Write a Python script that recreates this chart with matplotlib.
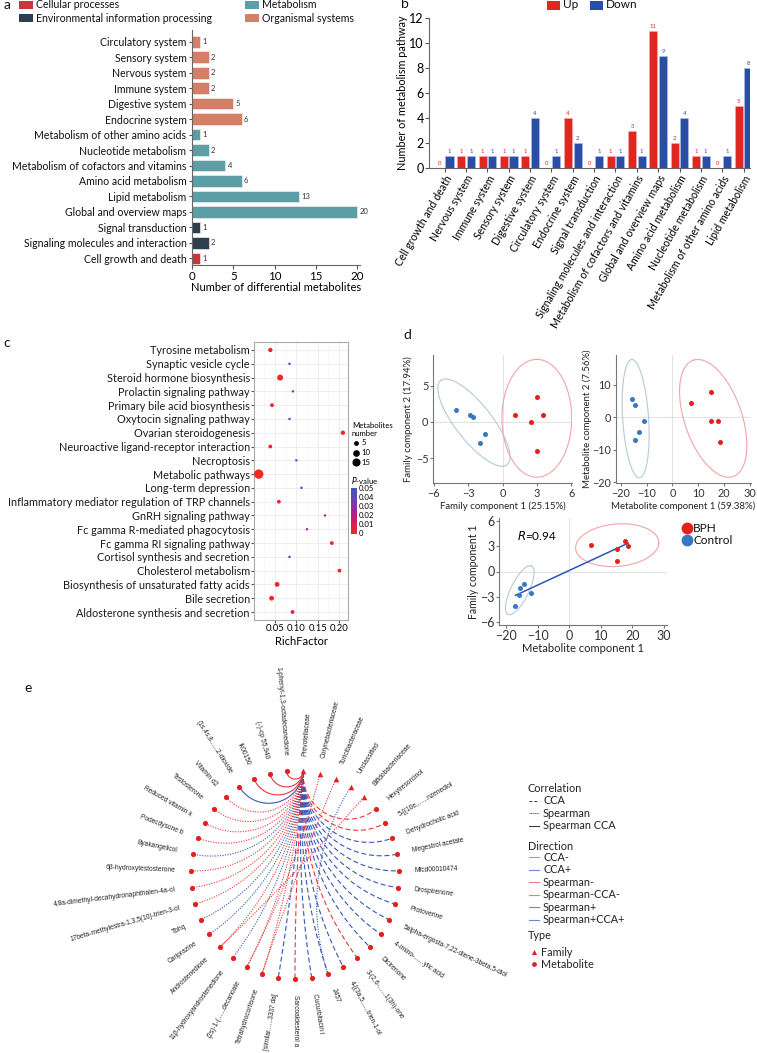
import numpy as np
import matplotlib
matplotlib.use('Agg')
import matplotlib.pyplot as plt
from matplotlib.patches import Rectangle
from matplotlib.lines import Line2D
from matplotlib.colors import LinearSegmentedColormap, Normalize
import matplotlib.cm as cm

plt.rcParams['font.family'] = ['Lato', 'DejaVu Sans']

# ---------------- data ----------------
# panel a
a_terms = ['Circulatory system', 'Sensory system', 'Nervous system', 'Immune system',
           'Digestive system', 'Endocrine system', 'Metabolism of other amino acids',
           'Nucleotide metabolism', 'Metabolism of cofactors and vitamins',
           'Amino acid metabolism', 'Lipid metabolism', 'Global and overview maps',
           'Signal transduction', 'Signaling molecules and interaction', 'Cell growth and death']
a_counts = [1, 2, 2, 2, 5, 6, 1, 2, 4, 6, 13, 20, 1, 2, 1]
a_class = ['Organismal systems'] * 6 + ['Metabolism'] * 6 + \
          ['Environmental information processing'] * 2 + ['Cellular processes']
a_colors = {'Cellular processes': '#c8383a',
            'Environmental information processing': '#2c3e50',
            'Metabolism': '#5b9ea6',
            'Organismal systems': '#d47f66'}

# panel b
b_terms = ['Cell growth and death', 'Nervous system', 'Immune system', 'Sensory system',
           'Digestive system', 'Circulatory system', 'Endocrine system', 'Signal transduction',
           'Signaling molecules and interaction', 'Metabolism of cofactors and vitamins',
           'Global and overview maps', 'Amino acid metabolism', 'Nucleotide metabolism',
           'Metabolism of other amino acids', 'Lipid metabolism']
b_up = [0, 1, 1, 1, 1, 0, 4, 0, 1, 3, 11, 2, 1, 0, 5]
b_down = [1, 1, 1, 1, 4, 1, 2, 1, 1, 1, 9, 4, 1, 1, 8]

# panel c (top to bottom)
c_terms = ['Tyrosine metabolism', 'Synaptic vesicle cycle', 'Steroid hormone biosynthesis',
           'Prolactin signaling pathway', 'Primary bile acid biosynthesis',
           'Oxytocin signaling pathway', 'Ovarian steroidogenesis',
           'Neuroactive ligand-receptor interaction', 'Necroptosis', 'Metabolic pathways',
           'Long-term depression', 'Inflammatory mediator regulation of TRP channels',
           'GnRH signaling pathway', 'Fc gamma R-mediated phagocytosis',
           'Fc gamma RI signaling pathway', 'Cortisol synthesis and secretion',
           'Cholesterol metabolism', 'Biosynthesis of unsaturated fatty acids',
           'Bile secretion', 'Aldosterone synthesis and secretion']
c_rich = [0.039, 0.084, 0.062, 0.092, 0.043, 0.084, 0.209, 0.039, 0.100, 0.012,
          0.112, 0.059, 0.167, 0.125, 0.183, 0.084, 0.201, 0.055, 0.042, 0.091]
c_count = [4, 1, 8, 1, 3, 1, 4, 3, 1, 20, 1, 3, 1, 1, 3, 1, 3, 5, 5, 3]
c_pval = [0.002, 0.040, 0.001, 0.037, 0.003, 0.040, 0.002, 0.003, 0.036, 0.0001,
          0.034, 0.003, 0.020, 0.026, 0.002, 0.040, 0.003, 0.001, 0.001, 0.006]

# panel d
d1_ctrl_x = [-4.1, -2.8, -2.6, -1.5, -2.0]
d1_ctrl_y = [1.7, 1.0, 0.7, -1.6, -2.9]
d1_bph_x = [1.1, 3.0, 3.5, 2.5, 3.0]
d1_bph_y = [1.0, 3.4, 0.95, 0.05, -4.0]
d2_ctrl_x = [-15.7, -14.5, -11.0, -13.0, -14.4]
d2_ctrl_y = [5.6, 3.8, -1.0, -4.6, -7.1]
d2_bph_x = [7.1, 15.0, 15.0, 17.5, 18.5]
d2_bph_y = [4.4, 7.8, -1.0, -1.2, -7.6]
d3_ctrl_x = [-15.6, -14.4, -15.9, -12.2, -17.1]
d3_ctrl_y = [-2.0, -1.45, -2.74, -2.5, -4.07]
d3_bph_x = [6.8, 17.7, 15.0, 18.7, 15.0]
d3_bph_y = [3.14, 3.6, 2.6, 3.06, 1.26]
r_value = 0.94
# ellipses: centre x, centre y, first half-axis (x, y), second half-axis (x, y)
d1_ell_ctrl = [-2.5, -0.1, -2.9, 5.8, 1.25, 1.55]
d1_ell_bph = [3.0, 0.5, 0.0, 8.1, 3.05, 0.0]
d2_ell_ctrl = [-14.2, -0.4, -1.5, 18.2, 5.0, 0.3]
d2_ell_bph = [15.8, -0.3, -7.7, 17.9, 10.5, 2.86]
d3_ell_ctrl = [-15.7, -2.2, 3.75, 2.85, 2.57, -0.46]
d3_ell_bph = [15.2, 3.1, 13.2, 0.3, 0.0, 2.5]

# panel e (clockwise from the top)
e_nodes = ['Prevotellaceae', 'Corynebacteriaceae', 'Turicibacteraceae', 'Unclassified',
           'Bifidobacteriaceae', 'Hexylresorcinol', '5-[(10e,......nzenediol',
           'Dehydrocholic acid', 'Megestrol acetate', 'Mfcd00010474', 'Drospirenone',
           'Protoverine', '5alpha-ergosta-7,22-diene-3beta,5-diol', '4-imino-......ylic acid',
           'Dicirenone', '3-(2,6-......1(3h)-one', '4-[(3a,5......trien-1-ol', '2457',
           'Cucurbitacin i', 'Sarcoaldesterol a', '[similar......3337 da]',
           'Tetrahydrocortisone', '(2s)-1-(......decanoate', '11β-hydroxyandrostenedione',
           'Androstenedione', 'Cariprazine', 'Tbhq', '17beta-methylestra-1,3,5(10)-trien-3-ol',
           '4,8a-dimethyl-decahydronaphthalen-4a-ol', '6β-hydroxytestosterone',
           'Byakangelicol', 'Podecdysone b', 'Reduced vitamin k', 'Testosterone',
           'Vitamin d2', '(1s,4s,8......2-dioxide', 'Ik00150', '(-)-cp 55,940',
           '1-phenyl-1,3-octadecanedione']
e_type = ['Family'] * 5 + ['Metabolite'] * 34
e_src = ['Prevotellaceae'] * 34 + ['Corynebacteriaceae', 'Turicibacteraceae',
                                    'Unclassified', 'Bifidobacteriaceae']
e_dst = e_nodes[5:] + ['(2s)-1-(......decanoate', 'Tetrahydrocortisone', '2457',
                       'Androstenedione']
e_kind = ['CCA-', 'CCA-', 'CCA+', 'CCA+', 'CCA+', 'CCA+', 'CCA+', 'CCA+', 'CCA+', 'CCA+',
          'CCA-', 'CCA+', 'CCA+', 'CCA+', 'CCA-', 'CCA+', 'Spearman-', 'Spearman-',
          'Spearman+', 'Spearman-', 'Spearman+', 'Spearman+', 'Spearman-', 'Spearman-',
          'Spearman-', 'Spearman+', 'Spearman-', 'Spearman-', 'Spearman-', 'Spearman-',
          'Spearman+CCA+', 'Spearman-CCA-', 'Spearman-CCA-', 'Spearman-CCA-',
          'Spearman-', 'Spearman-', 'Spearman+', 'Spearman-']
e_dir_labels = ['CCA-', 'CCA+', 'Spearman-', 'Spearman-CCA-', 'Spearman+', 'Spearman+CCA+']

# ---------------- figure ----------------
W, H = 757, 1053
fig = plt.figure(figsize=(W / 100, H / 100), dpi=100)


def box(x0, y0, x1, y1):
    return [x0 / W, 1 - y1 / H, (x1 - x0) / W, (y1 - y0) / H]


def fx(x):
    return x / W


def fy(y):
    return 1 - y / H


def panel_label(x, y, s):
    fig.text(fx(x), fy(y), s, fontsize=10, ha='left', va='center', color='#111')


RED = '#e3211c'
BLUE = '#2f4fa8'

# ---- a ----
ax = fig.add_axes(box(192, 30, 359.5, 265))
ypos = np.arange(len(a_terms))[::-1]
ax.barh(ypos, a_counts, height=0.75, color=[a_colors[c] for c in a_class],
        edgecolor='#eeeeee', linewidth=0.5)
for y, v in zip(ypos, a_counts):
    ax.text(v + 0.3, y, str(v), va='center', ha='left', fontsize=5.5, color='#333')
ax.set_yticks(ypos)
ax.set_yticklabels(a_terms, fontsize=7.6, color='#111')
ax.set_xlim(0, 20.3)
ax.set_ylim(-0.43, 14.76)
ax.set_xticks([0, 5, 10, 15, 20])
ax.tick_params(axis='x', labelsize=8.3, length=3, pad=1, color='#555')
ax.tick_params(axis='y', length=2, pad=2, color='#555')
for s in ['top', 'right']:
    ax.spines[s].set_visible(False)
for s in ['left', 'bottom']:
    ax.spines[s].set_color('#666')
    ax.spines[s].set_linewidth(0.8)
ax.set_xlabel('Number of differential metabolites', fontsize=8, labelpad=0)

leg_a = [('Cellular processes', 19, 5), ('Environmental information processing', 19, 18),
         ('Metabolism', 245, 5), ('Organismal systems', 245, 18)]
for name, lx, ly in leg_a:
    fig.add_artist(Rectangle((fx(lx), fy(ly + 4)), 14 / W, 8 / H, transform=fig.transFigure,
                             color=a_colors[name], ec='none'))
    fig.text(fx(lx + 17), fy(ly), name, fontsize=7.6, va='center', ha='left', color='#111')
panel_label(4, 5, 'a')

# ---- b ----
axb = fig.add_axes(box(429.3, 18, 750, 168))
xb = np.arange(len(b_terms))
axb.bar(xb - 0.225, b_up, 0.38, color='#e0261f', edgecolor='#f3b0b0', linewidth=0.4)
axb.bar(xb + 0.225, b_down, 0.38, color='#2a4ea6', edgecolor='#b0c0e8', linewidth=0.4)
for x, u, d in zip(xb, b_up, b_down):
    axb.text(x - 0.225, u + 0.15, str(u), ha='center', va='bottom', fontsize=4.3, color='#e0261f')
    axb.text(x + 0.225, d + 0.15, str(d), ha='center', va='bottom', fontsize=4.3, color='#2a4ea6')
axb.set_xlim(-0.72, 14.3)
axb.set_ylim(0, 12)
axb.set_yticks(range(0, 13, 2))
axb.set_xticks(xb)
axb.set_xticklabels(b_terms, rotation=60, ha='right', rotation_mode='anchor', fontsize=7.6)
axb.tick_params(axis='y', labelsize=9, length=3, pad=1, color='#555')
axb.tick_params(axis='x', length=3, pad=1, color='#555')
for s in ['top', 'right']:
    axb.spines[s].set_visible(False)
for s in ['left', 'bottom']:
    axb.spines[s].set_color('#666')
    axb.spines[s].set_linewidth(0.8)
axb.set_ylabel('Number of metabolism pathway', fontsize=7.8, labelpad=1)
for name, col, lx in [('Up', '#e0261f', 547), ('Down', '#2a4ea6', 590)]:
    fig.add_artist(Rectangle((fx(lx), fy(9.5)), 13 / W, 9 / H, transform=fig.transFigure,
                             color=col, ec='none'))
    fig.text(fx(lx + 16), fy(5), name, fontsize=8.5, va='center', ha='left', color='#111')
panel_label(401, 4, 'b')

# ---- c ----
axc = fig.add_axes(box(254, 342, 348, 620))
yc = np.arange(len(c_terms))[::-1]
pv_cmap = LinearSegmentedColormap.from_list('pv', ['#ee2a24', '#d8175e', '#a0269a', '#6a44b2', '#3a5cb8'])
axc.scatter(c_rich, yc, s=[2.2 * n + 1 for n in c_count], c=c_pval, cmap=pv_cmap,
            vmin=0, vmax=0.05, zorder=3, linewidths=0)
axc.set_xlim(0.0008, 0.221)
axc.set_ylim(-0.58, len(c_terms) - 1 + 0.58)
axc.set_xticks([0.05, 0.10, 0.15, 0.20])
axc.set_xticklabels(['0.05', '0.10', '0.15', '0.20'])
axc.set_xticks([0.025, 0.075, 0.125, 0.175], minor=True)
axc.set_yticks(yc)
axc.set_yticklabels(c_terms, fontsize=7.8, color='#1a1a1a')
axc.grid(True, which='major', color='#ebebeb', lw=0.6, zorder=0)
axc.grid(True, which='minor', axis='x', color='#f2f2f2', lw=0.4, zorder=0)
axc.set_axisbelow(True)
axc.tick_params(axis='both', length=2, pad=1, color='#555')
axc.tick_params(axis='x', which='minor', length=0)
axc.tick_params(axis='x', labelsize=6.8)
for s in axc.spines.values():
    s.set_color('#aaaaaa')
    s.set_linewidth(0.8)
axc.set_xlabel('RichFactor', fontsize=8, labelpad=2)

fig.text(fx(352), fy(425), 'Metabolites', fontsize=5.6, va='center', ha='left')
fig.text(fx(352), fy(433), 'number', fontsize=5.6, va='center', ha='left')
axs = fig.add_axes(box(350, 437, 372, 468))
axs.set_xlim(0, 22)
axs.set_ylim(468, 437)
axs.axis('off')
for n, yy in zip([5, 10, 15], [442.7, 452.7, 462.3]):
    axs.scatter([6], [yy], s=2.2 * n + 1, color='black', linewidths=0)
    axs.text(11.7, yy, str(n), fontsize=5.6, va='center', ha='left')
fig.text(fx(351), fy(481), '$P$-value', fontsize=5.6, va='center', ha='left')
cax = fig.add_axes(box(351, 487.5, 357, 533.5))
cb = fig.colorbar(cm.ScalarMappable(norm=Normalize(0, 0.05), cmap=pv_cmap), cax=cax)
cb.set_ticks([0, 0.01, 0.02, 0.03, 0.04, 0.05])
cb.set_ticklabels(['0', '0.01', '0.02', '0.03', '0.04', '0.05'])
cb.outline.set_visible(False)
cax.tick_params(labelsize=5.6, length=0, pad=1.5)
panel_label(3, 343, 'c')


# ---- d ----
def ellipse(axx, p, color):
    t = np.linspace(0, 2 * np.pi, 200)
    axx.plot(p[0] + p[2] * np.cos(t) + p[4] * np.sin(t),
             p[1] + p[3] * np.cos(t) + p[5] * np.sin(t), color=color, lw=0.8, zorder=2)


def style_d(axx, fs):
    for s in ['top', 'right']:
        axx.spines[s].set_visible(False)
    for s in ['left', 'bottom']:
        axx.spines[s].set_color('#777')
        axx.spines[s].set_linewidth(0.8)
    axx.axhline(0, color='#e3e3e3', lw=0.8, zorder=0)
    axx.axvline(0, color='#e3e3e3', lw=0.8, zorder=0)
    axx.tick_params(labelsize=fs, length=2.5, pad=1, color='#777', labelcolor='#333')


CTRL = '#3877c2'
ELL_C = '#b3cadb'
ELL_B = '#f2a5a5'

ax1 = fig.add_axes(box(433.3, 355, 571.7, 483))
ellipse(ax1, d1_ell_ctrl, ELL_C)
ellipse(ax1, d1_ell_bph, ELL_B)
ax1.scatter(d1_ctrl_x, d1_ctrl_y, s=13, color=CTRL, zorder=3, linewidths=0)
ax1.scatter(d1_bph_x, d1_bph_y, s=13, color=RED, zorder=3, linewidths=0)
ax1.set_xlim(-6.05, 6.05)
ax1.set_ylim(-8.4, 9.2)
ax1.set_xticks([-6, -3, 0, 3, 6])
ax1.set_yticks([-5, 0, 5])
style_d(ax1, 7.8)
ax1.set_xlabel('Family component 1 (25.15%)', fontsize=6.9, labelpad=2, color='#222')
ax1.set_ylabel('Family component 2 (17.94%)', fontsize=6.9, labelpad=2, color='#222')

ax2 = fig.add_axes(box(616, 355, 750.7, 483))
ellipse(ax2, d2_ell_ctrl, ELL_C)
ellipse(ax2, d2_ell_bph, ELL_B)
ax2.scatter(d2_ctrl_x, d2_ctrl_y, s=13, color=CTRL, zorder=3, linewidths=0)
ax2.scatter(d2_bph_x, d2_bph_y, s=13, color=RED, zorder=3, linewidths=0)
ax2.set_xlim(-21.8, 30.3)
ax2.set_ylim(-20.2, 19.2)
ax2.set_xticks([-20, -10, 0, 10, 20, 30])
ax2.set_yticks([-20, -10, 0, 10])
style_d(ax2, 7.8)
ax2.set_xlabel('Metabolite component 1 (59.38%)', fontsize=6.9, labelpad=2, color='#222')
ax2.set_ylabel('Metabolite component 2 (7.56%)', fontsize=6.9, labelpad=0, color='#222')

ax3 = fig.add_axes(box(499.3, 518, 667.3, 625))
ellipse(ax3, d3_ell_ctrl, ELL_C)
ellipse(ax3, d3_ell_bph, ELL_B)
ax3.scatter(d3_ctrl_x, d3_ctrl_y, s=13, color=CTRL, zorder=3, linewidths=0)
ax3.scatter(d3_bph_x, d3_bph_y, s=13, color=RED, zorder=3, linewidths=0)
all_x = np.array(d3_ctrl_x + d3_bph_x)
all_y = np.array(d3_ctrl_y + d3_bph_y)
k, b0 = np.polyfit(all_x, all_y, 1)
xl = np.array([all_x.min(), all_x.max()])
ax3.plot(xl, k * xl + b0, color='#2a55c0', lw=1.1, zorder=2)
ax3.text(-16.7, 4.2, '$R$=%.2f' % r_value, fontsize=8.5, ha='left', va='center')
ax3.set_xlim(-22.2, 31.1)
ax3.set_ylim(-6.3, 6.3)
ax3.set_xticks([-20, -10, 0, 10, 20, 30])
ax3.set_yticks([-6, -3, 0, 3, 6])
style_d(ax3, 9)
ax3.set_xlabel('Metabolite component 1', fontsize=8, labelpad=1, color='#222')
ax3.set_ylabel('Family component 1', fontsize=7.6, labelpad=1, color='#222')
for name, col, ly in [('BPH', RED, 528.3), ('Control', CTRL, 540)]:
    fig.add_artist(Line2D([fx(687)], [fy(ly)], marker='o', ms=7.5, color=col, lw=0,
                          transform=fig.transFigure))
    fig.text(fx(693), fy(ly), name, fontsize=8.5, va='center', ha='left', color='#111')
panel_label(403, 335, 'd')

# ---- e ----
axe = fig.add_axes(box(0, 655, 757, 1053))
axe.set_xlim(0, 757)
axe.set_ylim(1053, 655)
axe.axis('off')
cxe, cye, Re = 295.0, 875.0, 104.0
n_nodes = len(e_nodes)
ang = np.deg2rad(90 - 180 / n_nodes - np.arange(n_nodes) * 360 / n_nodes)
node_x = cxe + Re * np.cos(ang)
node_y = cye - Re * np.sin(ang)
idx = {nm: i for i, nm in enumerate(e_nodes)}

E_RED = '#e8373c'
E_BLUE = '#3557b8'


def edge_style(kind):
    col = E_RED if '-' in kind else E_BLUE
    if kind.startswith('Spearman') and 'CCA' in kind:
        ls = '-'
    elif kind.startswith('Spearman'):
        ls = (0, (1, 1.3))
    else:
        ls = (0, (4.5, 2.5))
    return col, ls


def arc(a1, a2, npts=80):
    d = (a2 - a1 + np.pi) % (2 * np.pi) - np.pi
    th = abs(d)
    p1 = np.array([np.cos(a1), np.sin(a1)]) * Re
    p2 = np.array([np.cos(a2), np.sin(a2)]) * Re
    if np.cos(th / 2) < 0.03:
        t = np.linspace(0, 1, npts)
        pts = p1[None, :] * (1 - t[:, None]) + p2[None, :] * t[:, None]
    else:
        mid = a1 + d / 2
        dist = Re / np.cos(th / 2)
        rr = Re * np.tan(th / 2)
        oc = np.array([np.cos(mid), np.sin(mid)]) * dist
        b1 = np.arctan2(p1[1] - oc[1], p1[0] - oc[0])
        b2 = np.arctan2(p2[1] - oc[1], p2[0] - oc[0])
        db = (b2 - b1 + np.pi) % (2 * np.pi) - np.pi
        bs = b1 + np.linspace(0, 1, npts) * db
        pts = np.stack([oc[0] + rr * np.cos(bs), oc[1] + rr * np.sin(bs)], axis=1)
    return cxe + pts[:, 0], cye - pts[:, 1]


for s_, d_, k_ in zip(e_src, e_dst, e_kind):
    xs, ys = arc(ang[idx[s_]], ang[idx[d_]])
    col, ls = edge_style(k_)
    axe.plot(xs, ys, color=col, ls=ls, lw=0.8, zorder=2)

fam = [i for i, t in enumerate(e_type) if t == 'Family']
met = [i for i, t in enumerate(e_type) if t == 'Metabolite']
axe.scatter(node_x[fam], node_y[fam], marker='^', s=16, color=RED, zorder=4, linewidths=0)
axe.scatter(node_x[met], node_y[met], marker='o', s=14, color=RED, zorder=4, linewidths=0)

for i, nm in enumerate(e_nodes):
    a = ang[i]
    deg = np.rad2deg(a) % 360
    lx = cxe + (Re + 16) * np.cos(a)
    ly = cye - (Re + 16) * np.sin(a)
    if np.cos(a) >= 0:
        rot, ha = deg if deg < 180 else deg - 360, 'left'
    else:
        rot, ha = deg - 180, 'right'
    axe.text(lx, ly, nm, rotation=rot, rotation_mode='anchor', ha=ha, va='center',
             fontsize=4.8, color='#222', family=['Liberation Sans', 'DejaVu Sans'])

# legend of e
lgx = 528
axe.text(lgx, 789, 'Correlation', fontsize=7.8, va='center', ha='left', color='#222')
for lab, ls, yy in [('CCA', (0, (3, 2)), 800.7), ('Spearman', (0, (1, 1)), 813.3),
                    ('Spearman CCA', '-', 825.7)]:
    axe.plot([lgx + 1, lgx + 11], [yy, yy], color='#333', lw=0.7, ls=ls)
    axe.text(lgx + 15, yy, lab, fontsize=7.8, va='center', ha='left', color='#222')
axe.text(lgx, 846, 'Direction', fontsize=7.8, va='center', ha='left', color='#222')
for j, lab in enumerate(e_dir_labels):
    yy = 857.3 + j * 12.5
    col = '#f07c7c' if '-' in lab else '#6d86d2'
    axe.plot([lgx + 1, lgx + 11], [yy, yy], color=col, lw=0.8)
    axe.text(lgx + 15, yy, lab, fontsize=7.8, va='center', ha='left', color='#222')
axe.text(lgx, 935.3, 'Type', fontsize=7.8, va='center', ha='left', color='#222')
axe.scatter([lgx + 6], [952.3], marker='^', s=14, color=RED, linewidths=0)
axe.scatter([lgx + 6], [964.3], marker='o', s=12, color=RED, linewidths=0)
axe.text(lgx + 13, 952.3, 'Family', fontsize=7.8, va='center', ha='left', color='#222')
axe.text(lgx + 13, 964.3, 'Metabolite', fontsize=7.8, va='center', ha='left', color='#222')
panel_label(24, 688, 'e')

fig.savefig('out.png', dpi=100)
